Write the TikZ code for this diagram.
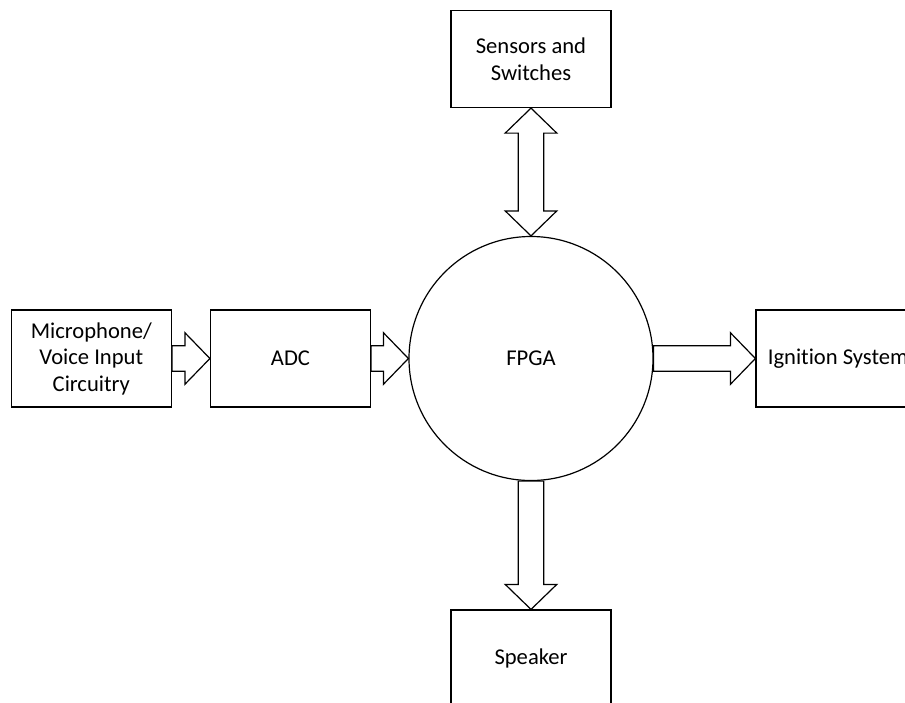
\documentclass[tikz,border=0pt]{standalone}
\usepackage{fontspec}
\setmainfont{Carlito}[Ligatures=CommonOff]
\usetikzlibrary{calc}

\tikzset{
  block/.style={draw, line width=1.2pt, minimum width=160pt, minimum height=97pt,
    inner sep=0pt, align=center, font=\fontsize{22.6}{26.5}\selectfont},
  hub/.style={draw, circle, line width=1.2pt, minimum size=244pt, inner sep=0pt,
    font=\fontsize{22.6}{26.5}\selectfont},
  fat/.style={draw, line width=1.2pt, fill=white, line join=miter},
}

% block arrow from #1 (shaft end) to #2 (tip)
\newcommand\onewayarrow[2]{%
  \coordinate (hb) at ($(#2)!25pt!(#1)$);
  \draw[fat] ($(#1)!12.7pt!90:(#2)$) -- ($(hb)!12.7pt!90:(#2)$)
    -- ($(hb)!25.8pt!90:(#2)$) -- (#2) -- ($(hb)!25.8pt!-90:(#2)$)
    -- ($(hb)!12.7pt!-90:(#2)$) -- ($(#1)!12.7pt!-90:(#2)$) -- cycle;}

% block arrow with a head at both ends
\newcommand\twowayarrow[2]{%
  \coordinate (ha) at ($(#1)!25pt!(#2)$);
  \coordinate (hz) at ($(#2)!25pt!(#1)$);
  \draw[fat] (#1) -- ($(ha)!25.8pt!90:(#1)$) -- ($(ha)!12.7pt!90:(#1)$)
    -- ($(hz)!12.7pt!-90:(#2)$) -- ($(hz)!25.8pt!-90:(#2)$) -- (#2)
    -- ($(hz)!25.8pt!90:(#2)$) -- ($(hz)!12.7pt!90:(#2)$)
    -- ($(ha)!12.7pt!-90:(#1)$) -- ($(ha)!25.8pt!-90:(#1)$) -- cycle;}

\begin{document}
\begin{tikzpicture}[x=1pt, y=-1pt]
  \useasboundingbox (0,0) rectangle (905,702);
  \clip (0,0) rectangle (905,702);

  \node[hub]   (fpga)    at (531,358.5) {FPGA};
  \node[block] (sensors) at (531,59)    {Sensors and\\Switches};
  \node[block] (mic)     at (91.3,358.5) {Microphone/\\Voice Input\\Circuitry};
  \node[block] (adc)     at (290.5,358.5) {ADC};
  \node[block, minimum width=164pt] (ign) at (838,358.5) {Ignition System};
  \node[block] (spk)     at (531,658.5) {Speaker};

  \twowayarrow{sensors.south}{fpga.north}
  \onewayarrow{mic.east}{adc.west}
  \onewayarrow{adc.east}{fpga.west}
  \onewayarrow{fpga.east}{ign.west}
  \onewayarrow{fpga.south}{spk.north}
\end{tikzpicture}
\end{document}
